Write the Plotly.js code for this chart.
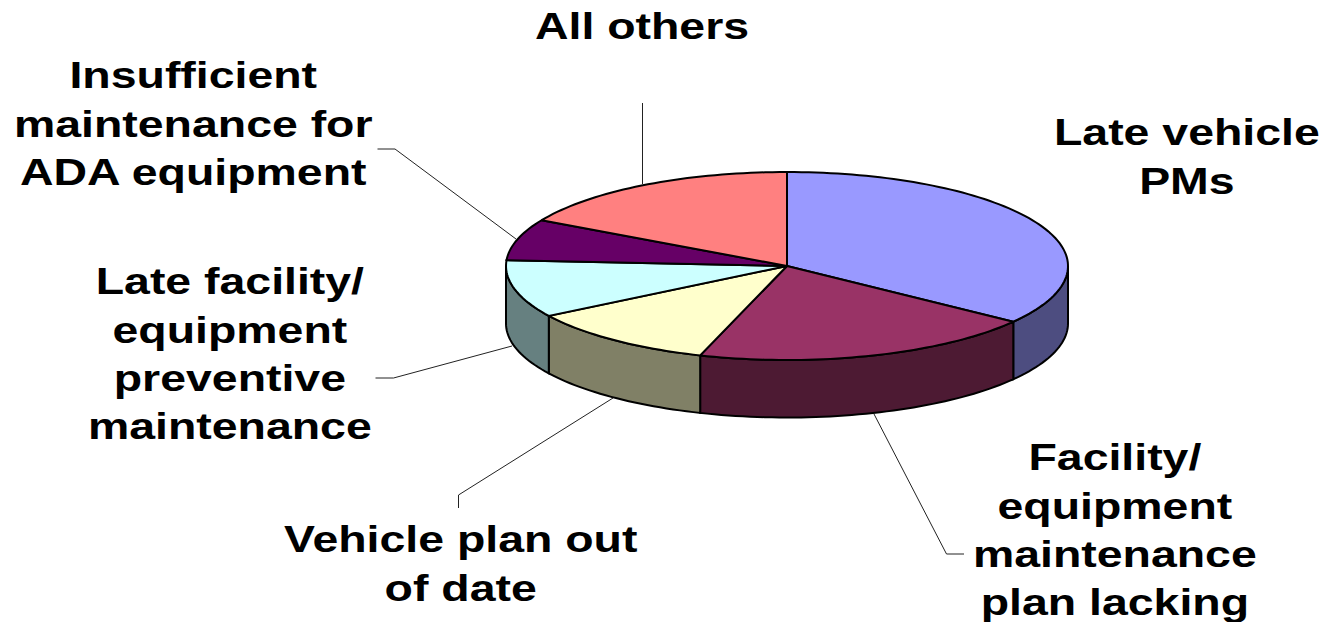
<!DOCTYPE html>
<html>
<head>
<meta charset="utf-8">
<script src="https://cdn.plot.ly/plotly-3.0.1.min.js"></script>
<style>
html,body{margin:0;padding:0;background:#fff;overflow:hidden}
.annotation-text{transform-box:fill-box;transform-origin:center;transform:scaleX(1.255)}
</style>
</head>
<body>
<div id="chart" style="width:1328px;height:622px"></div>
<script>
// Data
const categories = ["Late vehicle PMs","Facility/ equipment maintenance plan lacking","Vehicle plan out of date","Late facility/ equipment preventive maintenance","Insufficient maintenance for ADA equipment","All others"];
const values = [35.1, 19.9, 11.1, 9.9, 7.1, 16.9];
const topColors = ["#9999FF","#993366","#FFFFCC","#CCFFFF","#660066","#FF8080"];
const sideColors = ["#4D4D80","#4D1A33","#808066","#668080","#330033","#804040"];
const labelTexts = ["Late vehicle<br>PMs","Facility/<br>equipment<br>maintenance<br>plan lacking","Vehicle plan out<br>of date","Late facility/<br>equipment<br>preventive<br>maintenance","Insufficient<br>maintenance for<br>ADA equipment","All others"];
const labelX = [1187, 1115, 460, 230, 193, 642];
const labelY = [157, 529.5, 564, 353.5, 124, 26];
const leaderX = [[], [964,946.5,874], [458.5,458.5,613], [375.5,393.5,512], [377.5,395,516], [642.5,642.5]];
const leaderY = [[], [554,554,414], [508,495,398], [378,378,346], [149,149,239], [103,184]];

// Disc geometry, in axis units
const cx = 787, cy = 266, rx = 281, ry = 94, depth = 57.5;
const pt = deg => {
  const a = deg * Math.PI / 180;
  return [cx + rx * Math.sin(a), cy - ry * Math.cos(a)];
};
const total = values.reduce((s, v) => s + v, 0);
let acc = 0;
const spans = values.map(v => { const s = acc; acc += v; return [s / total * 360, acc / total * 360]; });
const arc = (a, b) => { const n = Math.max(2, Math.ceil((b - a) / 1.5)); const o = []; for (let i = 0; i <= n; i++) o.push(pt(a + (b - a) * i / n)); return o; };

const traces = [];
const poly = (points, fill) => traces.push({
  type: "scatter", mode: "lines", x: points.map(p => p[0]), y: points.map(p => p[1]),
  fill: "toself", fillcolor: fill, line: {color: "#000", width: 2, simplify: false},
  hoverinfo: "skip", showlegend: false
});
// front wall, visible between 90 and 270 degrees
spans.forEach(([a, b], i) => {
  const lo = Math.max(a, 90), hi = Math.min(b, 270);
  if (hi <= lo) return;
  const top = arc(lo, hi);
  const bottom = top.slice().reverse().map(p => [p[0], p[1] + depth]);
  poly(top.concat(bottom, [top[0]]), sideColors[i]);
});
// top face
spans.forEach(([a, b], i) => {
  poly([[cx, cy]].concat(arc(a, b), [[cx, cy]]), topColors[i]);
});
// leaders
leaderX.forEach((xs, i) => {
  if (!xs.length) return;
  traces.push({type: "scatter", mode: "lines", x: xs, y: leaderY[i], line: {color: "#222", width: 1},
    hoverinfo: "skip", showlegend: false});
});

const layout = {
  width: 1328, height: 622,
  margin: {l: 0, r: 0, t: 0, b: 0},
  paper_bgcolor: "#fff", plot_bgcolor: "#fff",
  showlegend: false,
  xaxis: {range: [0, 1328], visible: false, fixedrange: true},
  yaxis: {range: [622, 0], visible: false, fixedrange: true},
  annotations: labelTexts.map((t, i) => ({
    text: t, x: labelX[i], y: labelY[i], xref: "x", yref: "y",
    xanchor: "center", yanchor: "middle", align: "center", showarrow: false,
    font: {family: "Liberation Sans, Arial, sans-serif", size: 37, color: "#000", weight: 700}
  }))
};
Plotly.newPlot("chart", traces, layout, {displayModeBar: false, staticPlot: true});
</script>
</body>
</html>
